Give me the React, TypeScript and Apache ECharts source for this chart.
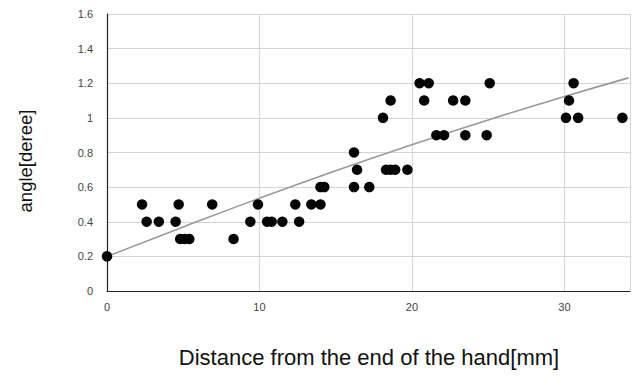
import React, { useEffect, useRef } from "react";
import * as echarts from "echarts";

const xTitle = "Distance from the end of the hand[mm]";
const yTitle = "angle[deree]";

const distance = [
  0, 2.3, 2.6, 3.4, 4.5, 4.7, 4.8, 5.1, 5.4, 6.9, 8.3, 9.4, 9.9, 10.5, 10.8, 11.5,
  12.35, 12.6, 13.4, 14.0, 14.0, 14.25, 16.2, 17.2, 16.4, 16.2, 18.3, 18.6, 18.9,
  19.7, 18.1, 18.6, 20.5, 21.1, 20.8, 22.7, 23.5, 21.6, 22.1, 23.5, 24.9, 25.1,
  30.6, 30.3, 30.1, 30.9, 33.8,
];
const angle = [
  0.2, 0.5, 0.4, 0.4, 0.4, 0.5, 0.3, 0.3, 0.3, 0.5, 0.3, 0.4, 0.5, 0.4, 0.4, 0.4,
  0.5, 0.4, 0.5, 0.5, 0.6, 0.6, 0.6, 0.6, 0.7, 0.8, 0.7, 0.7, 0.7,
  0.7, 1.0, 1.1, 1.2, 1.2, 1.1, 1.1, 1.1, 0.9, 0.9, 0.9, 0.9, 1.2,
  1.2, 1.1, 1.0, 1.0, 1.0,
];

const trendX = [0, 5, 10, 15, 20, 25, 30, 34.2];
const trendY = [0.2, 0.37, 0.536, 0.695, 0.845, 0.988, 1.123, 1.231];

export default function App() {
  const ref = useRef<HTMLDivElement>(null);
  useEffect(() => {
    if (!ref.current) return;
    const chart = echarts.init(ref.current, null, { renderer: "svg" });
    chart.setOption({
      animation: false,
      backgroundColor: "#ffffff",
      grid: { left: 107, right: 13, top: 14, bottom: 97, containLabel: false },
      graphic: [
        {
          type: "text",
          x: 369,
          y: 357,
          style: {
            text: xTitle,
            fontFamily: "Liberation Sans, Arial",
            fontSize: 22,
            fill: "#111",
            align: "center",
            verticalAlign: "middle",
          },
        },
        {
          type: "text",
          x: 25,
          y: 161,
          rotation: Math.PI / 2,
          style: {
            text: yTitle,
            fontFamily: "Liberation Sans, Arial",
            fontSize: 18.5,
            fill: "#111",
            align: "center",
            verticalAlign: "middle",
          },
        },
      ],
      xAxis: {
        type: "value",
        min: 0,
        max: 34.3,
        interval: 10,
        axisLine: { show: true, onZero: false, lineStyle: { color: "#222", width: 1.2 } },
        axisTick: { show: false },
        axisLabel: {
          fontFamily: "Liberation Sans, Arial",
          fontSize: 11,
          color: "#444",
          margin: 10,
          showMaxLabel: false,
        },
        splitLine: { show: true, lineStyle: { color: "#d4d4d4", width: 1 } },
      },
      yAxis: {
        type: "value",
        min: 0,
        max: 1.6,
        interval: 0.2,
        axisLine: { show: true, lineStyle: { color: "#222", width: 1.2 } },
        axisTick: { show: false },
        axisLabel: {
          fontFamily: "Liberation Sans, Arial",
          fontSize: 11,
          color: "#444",
          margin: 14,
        },
        splitLine: { show: true, lineStyle: { color: "#d4d4d4", width: 1 } },
      },
      series: [
        {
          type: "line",
          data: trendX.map((x, i) => [x, trendY[i]]),
          smooth: true,
          showSymbol: false,
          lineStyle: { color: "#999999", width: 1.6 },
          z: 1,
        },
        {
          type: "scatter",
          data: distance.map((x, i) => [x, angle[i]]),
          symbol: "circle",
          symbolSize: 10.5,
          itemStyle: { color: "#050505", opacity: 1 },
          z: 2,
        },
      ],
    });
    return () => chart.dispose();
  }, []);
  return (
    <div
      ref={ref}
      style={{ position: "absolute", left: 0, top: 0, width: 643, height: 388, background: "#fff" }}
    />
  );
}
